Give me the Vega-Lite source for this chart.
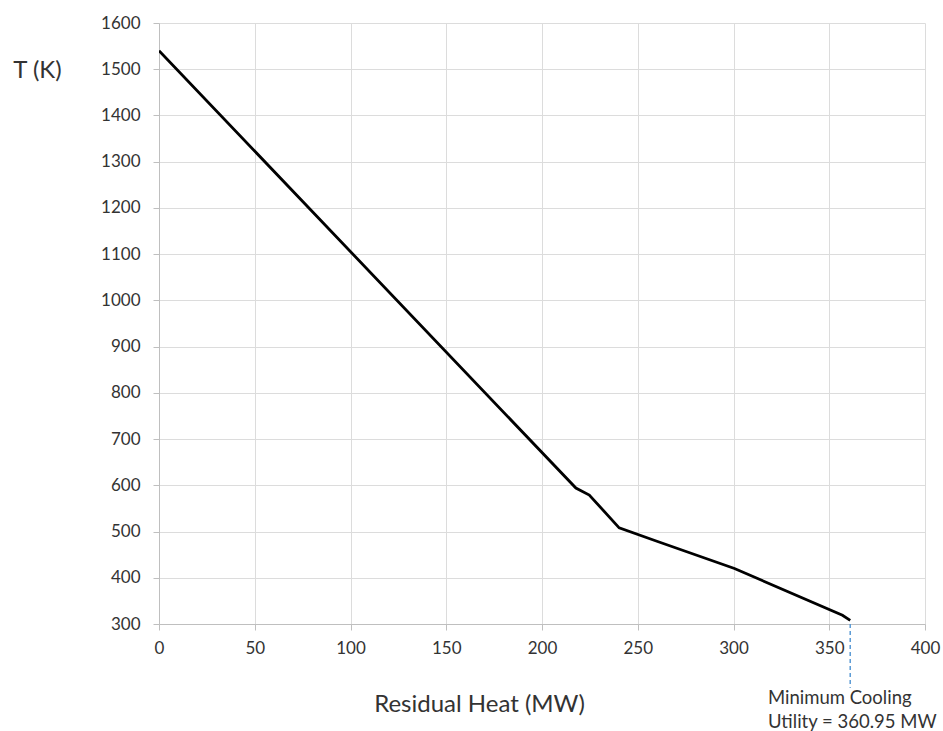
{
  "$schema": "https://vega.github.io/schema/vega-lite/v6.json",
  "width": 766,
  "height": 601,
  "autosize": "none",
  "padding": {"left": 159, "top": 23, "right": 18, "bottom": 107},
  "background": "white",
  "config": {
    "view": {"stroke": null},
    "font": "Lato",
    "axis": {
      "labelFont": "Lato",
      "titleFont": "Lato",
      "labelFontSize": 17,
      "labelColor": "#333333",
      "titleColor": "#333333",
      "titleFontWeight": "normal",
      "titleFontSize": 24,
      "gridColor": "#dcdcdc",
      "gridWidth": 1,
      "domainColor": "#bfbfbf",
      "tickColor": "#bfbfbf",
      "tickSize": 6,
      "labelFlush": false,
      "labelOverlap": false
    }
  },
  "datasets": {
    "curve": [
      {"q": 0, "T": 1540},
      {"q": 217.7, "T": 594},
      {"q": 224.7, "T": 579},
      {"q": 240.3, "T": 508},
      {"q": 260, "T": 479},
      {"q": 300.5, "T": 420},
      {"q": 356.9, "T": 319},
      {"q": 360.95, "T": 308}
    ],
    "marker": [{"q": 360.95, "T": 300, "T2": 162}],
    "note": [
      {"q": 318, "T": 140, "label": "Minimum Cooling"},
      {"q": 318, "T": 88, "label": "Utility = 360.95 MW"}
    ]
  },
  "layer": [
    {
      "data": {"name": "curve"},
      "mark": {"type": "line", "color": "black", "strokeWidth": 2.8, "clip": true},
      "encoding": {
        "x": {
          "field": "q", "type": "quantitative",
          "scale": {"domain": [0, 400], "nice": false},
          "axis": {
            "values": [0, 50, 100, 150, 200, 250, 300, 350, 400],
            "format": "d",
            "title": "Residual Heat (MW)",
            "labelPadding": 10,
            "titleX": 320, "titleY": 87, "titleAlign": "center", "titleBaseline": "alphabetic"
          }
        },
        "y": {
          "field": "T", "type": "quantitative",
          "scale": {"domain": [300, 1600], "nice": false, "zero": false},
          "axis": {
            "values": [300, 400, 500, 600, 700, 800, 900, 1000, 1100, 1200, 1300, 1400, 1500, 1600],
            "format": "d",
            "title": "T (K)",
            "labelPadding": 13,
            "titleAngle": 0, "titleX": -122, "titleY": 47, "titleAlign": "center", "titleBaseline": "middle"
          }
        }
      }
    },
    {
      "data": {"name": "marker"},
      "mark": {"type": "rule", "color": "#5b9bd5", "strokeWidth": 1.5, "strokeDash": [4, 3], "clip": false},
      "encoding": {
        "x": {"field": "q", "type": "quantitative"},
        "y": {"field": "T", "type": "quantitative"},
        "y2": {"field": "T2"}
      }
    },
    {
      "data": {"name": "note"},
      "mark": {"type": "text", "align": "left", "baseline": "middle", "fontSize": 18.5, "font": "Lato", "color": "#333333", "clip": false},
      "encoding": {
        "x": {"field": "q", "type": "quantitative"},
        "y": {"field": "T", "type": "quantitative"},
        "text": {"field": "label"}
      }
    }
  ]
}
